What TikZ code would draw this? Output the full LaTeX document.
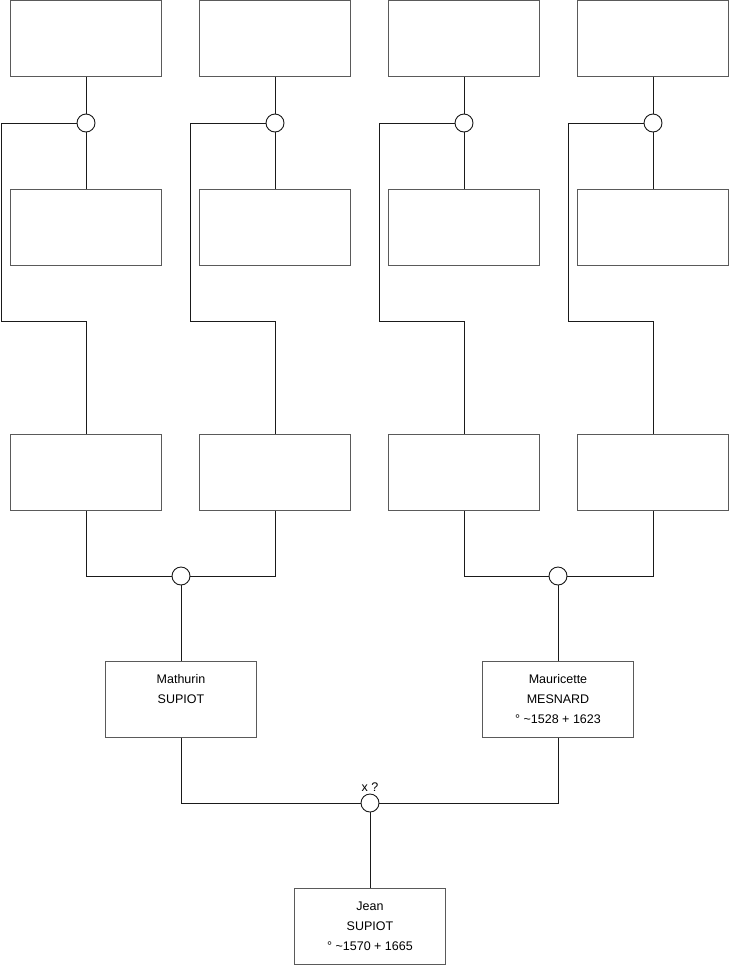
\documentclass[tikz,border=0pt]{standalone}
\usepackage{fontspec}
\setmainfont{Liberation Sans}
\usetikzlibrary{positioning}
\definecolor{BoxLine}{HTML}{5A5A5A}
\definecolor{LinkLine}{HTML}{1A1A1A}

\begin{document}
\begin{tikzpicture}[x=1pt, y=-1pt,
    person/.style={draw=BoxLine, line width=1pt, fill=white, minimum width=151pt, minimum height=76pt,
        inner sep=0pt, align=center, font=\fontsize{12.5}{20}\selectfont},
    union/.style={circle, draw=LinkLine, fill=white, line width=0.9pt, minimum size=18pt, inner sep=0pt},
    link/.style={draw=LinkLine, line width=0.9pt}]
    % Page frame
    \useasboundingbox (0,0) rectangle (740,975);

    % Top row (empty)
    \node[person] (t1) at (86,38) {};
    \node[person] (t2) at (275,38) {};
    \node[person] (t3) at (464,38) {};
    \node[person] (t4) at (653,38) {};

    % Unions under the top row
    \node[union] (u1) at (86,123) {};
    \node[union] (u2) at (275,123) {};
    \node[union] (u3) at (464,123) {};
    \node[union] (u4) at (653,123) {};

    % Second row (empty)
    \node[person] (s1) at (86,227) {};
    \node[person] (s2) at (275,227) {};
    \node[person] (s3) at (464,227) {};
    \node[person] (s4) at (653,227) {};

    % Third row (empty)
    \node[person] (l1) at (86,472.5) {};
    \node[person] (l2) at (275,472.5) {};
    \node[person] (l3) at (464,472.5) {};
    \node[person] (l4) at (653,472.5) {};

    % Bends of the side links
    \coordinate (k1) at (1,321);
    \coordinate (k2) at (190,321);
    \coordinate (k3) at (379,321);
    \coordinate (k4) at (568,321);

    % Unions of the third row
    \node[union] (m1) at (181,576) {};
    \node[union] (m2) at (558,576) {};

    % Parents
    \node[person] (mathurin) at (181,699) {Mathurin\\SUPIOT\\\mbox{}};
    \node[person] (mauricette) at (558,699) {Mauricette\\MESNARD\\° \textasciitilde1528 + 1623};

    % Marriage
    \node[union, label={[font=\fontsize{12.5}{14}\selectfont, label distance=-1pt]above:x ?}] (mar) at (370,803) {};

    % Child
    \node[person] (jean) at (370,926) {Jean\\SUPIOT\\° \textasciitilde1570 + 1665};

    % Links of the top groups
    \draw[link] (t1.south) -- (u1.north);
    \draw[link] (t2.south) -- (u2.north);
    \draw[link] (t3.south) -- (u3.north);
    \draw[link] (t4.south) -- (u4.north);
    \draw[link] (u1.south) -- (s1.north);
    \draw[link] (u2.south) -- (s2.north);
    \draw[link] (u3.south) -- (s3.north);
    \draw[link] (u4.south) -- (s4.north);
    \draw[link] (u1.west) -| (k1) -| (l1.north);
    \draw[link] (u2.west) -| (k2) -| (l2.north);
    \draw[link] (u3.west) -| (k3) -| (l3.north);
    \draw[link] (u4.west) -| (k4) -| (l4.north);

    % Links down to the parents
    \draw[link] (l1.south) |- (m1.west);
    \draw[link] (l2.south) |- (m1.east);
    \draw[link] (l3.south) |- (m2.west);
    \draw[link] (l4.south) |- (m2.east);
    \draw[link] (m1.south) -- (mathurin.north);
    \draw[link] (m2.south) -- (mauricette.north);

    % Links down to the child
    \draw[link] (mathurin.south) |- (mar.west);
    \draw[link] (mauricette.south) |- (mar.east);
    \draw[link] (mar.south) -- (jean.north);
\end{tikzpicture}
\end{document}
